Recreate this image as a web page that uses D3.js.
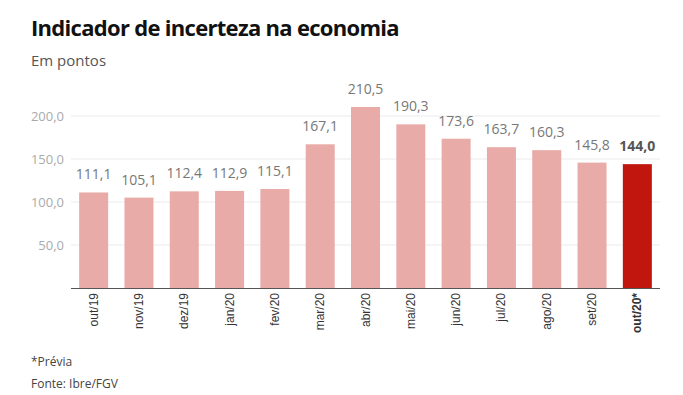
<!DOCTYPE html>
<html lang="pt">
<head>
<meta charset="UTF-8">
<title>Indicador de incerteza na economia</title>
<script src="https://d3js.org/d3.v7.min.js"></script>
<style>
    body { margin: 0; background: #fff; font-family: "Open Sans", sans-serif; }
    .title { font-size: 22px; font-weight: 700; fill: #111; letter-spacing: -0.7px; }
    .subtitle { font-size: 15px; fill: #555; }
    .note { font-size: 12px; fill: #444; }
    .ytick text { font-size: 13px; fill: #aaa; }
    .xtick text { font-size: 12px; fill: #333; font-family: "Liberation Sans", Arial, sans-serif; }
    .value { font-size: 14px; fill: #777; }
</style>
</head>
<body>
<div id="chart"></div>
<script>
    // data
    const months = ["out/19", "nov/19", "dez/19", "jan/20", "fev/20", "mar/20", "abr/20",
        "mai/20", "jun/20", "jul/20", "ago/20", "set/20", "out/20*"];
    const values = [111.1, 105.1, 112.4, 112.9, 115.1, 167.1, 210.5, 190.3, 173.6, 163.7, 160.3, 145.8, 144.0];
    const yTicks = [50, 100, 150, 200];

    const width = 683, height = 395;
    const fmt = v => v.toFixed(1).replace(".", ",");

    const svg = d3.select("#chart").append("svg")
        .attr("width", width)
        .attr("height", height);

    svg.append("text").attr("class", "title").attr("x", 31).attr("y", 36)
        .text("Indicador de incerteza na economia");
    svg.append("text").attr("class", "subtitle").attr("x", 31).attr("y", 66)
        .text("Em pontos");

    const x = d3.scaleBand()
        .domain(months)
        .range([71, 660])
        .paddingInner(0.36)
        .paddingOuter(0.18);

    const y = d3.scaleLinear()
        .domain([0, 200])
        .range([288, 116]);

    // grid + y labels
    const yAxis = svg.append("g").attr("class", "ytick")
        .selectAll("g").data(yTicks).join("g")
        .attr("transform", d => `translate(0,${y(d)})`);
    yAxis.append("line")
        .attr("x1", 71).attr("x2", 660)
        .attr("stroke", "#ebebeb");
    yAxis.append("text")
        .attr("x", 64).attr("dy", "0.35em")
        .attr("text-anchor", "end")
        .text(d => fmt(d));

    // bars
    const last = months.length - 1;
    svg.append("g").selectAll("rect")
        .data(values).join("rect")
        .attr("x", (d, i) => x(months[i]))
        .attr("y", d => y(d))
        .attr("width", x.bandwidth())
        .attr("height", d => y(0) - y(d))
        .attr("fill", (d, i) => i === last ? "#c0160e" : "#e8aba7");

    // value labels
    svg.append("g").selectAll("text")
        .data(values).join("text")
        .attr("class", "value")
        .attr("x", (d, i) => x(months[i]) + x.bandwidth() / 2)
        .attr("y", d => y(d) - 13)
        .attr("text-anchor", "middle")
        .style("font-weight", (d, i) => i === last ? 700 : null)
        .style("fill", (d, i) => i === last ? "#555" : null)
        .text(d => fmt(d));

    // x axis
    svg.append("line")
        .attr("x1", 71).attr("x2", 660)
        .attr("y1", 288.5).attr("y2", 288.5)
        .attr("stroke", "#555");

    svg.append("g").attr("class", "xtick")
        .selectAll("text").data(months).join("text")
        .attr("transform", d => `translate(${x(d) + x.bandwidth() / 2 + 4},293) rotate(-90)`)
        .attr("text-anchor", "end")
        .style("font-weight", (d, i) => i === last ? 700 : null)
        .text(d => d);

    // footer
    svg.append("text").attr("class", "note").attr("x", 31).attr("y", 366).text("*Prévia");
    svg.append("text").attr("class", "note").attr("x", 31).attr("y", 388).text("Fonte: Ibre/FGV");
</script>
</body>
</html>
